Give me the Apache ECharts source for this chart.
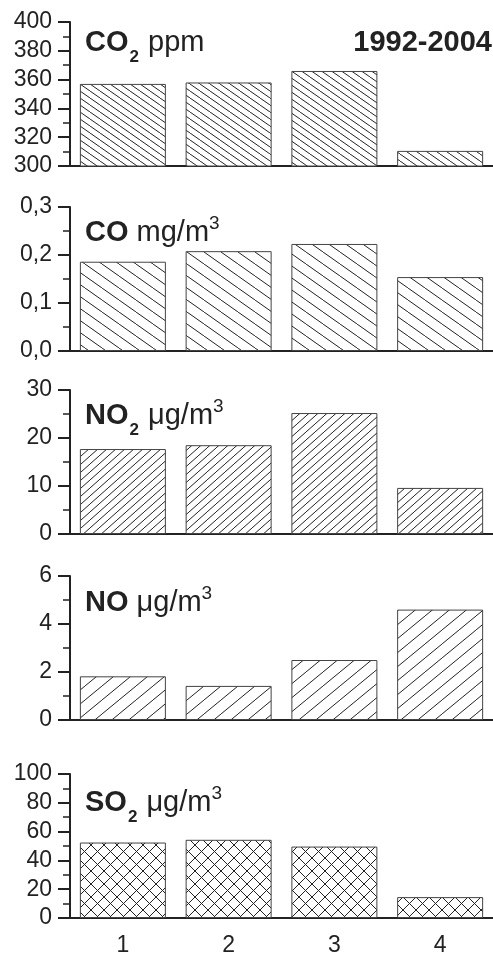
<!DOCTYPE html>
<html>
<head>
<meta charset="utf-8">
<title>CO2, CO, NO2, NO, SO2 1992-2004</title>
<script src="https://cdn.jsdelivr.net/npm/echarts@6/dist/echarts.min.js"></script>
<style>
  html, body { margin: 0; padding: 0; background: #fff; }
  #chart { width: 493px; height: 960px; }
</style>
</head>
<body>
<div id="chart"></div>
<script>
// dane
var categories = ['1', '2', '3', '4']
var co2 = [357, 358, 366, 310.5]
var co  = [0.186, 0.208, 0.223, 0.154]
var no2 = [17.7, 18.5, 25.2, 9.6]
var no  = [1.82, 1.42, 2.5, 4.6]
var so2 = [52.4, 54.3, 49.6, 14.5]

var INK = '#222'
var FONT = '"Liberation Sans", Arial, sans-serif'

/**
 * Kafelek kreskowania dla wypełnienia słupków.
 * dir: 'back' = \, 'fwd' = /, 'cross' = oba
 */
function hatch(w, h, dir) {
  var c = document.createElement('canvas')
  c.width = w
  c.height = h
  var ctx = c.getContext('2d')
  ctx.fillStyle = '#fff'
  ctx.fillRect(0, 0, w, h)
  ctx.strokeStyle = INK
  ctx.lineWidth = 1
  ctx.beginPath()
  for (var k = -1; k <= 1; k++) {
    if (dir === 'back' || dir === 'cross') {
      ctx.moveTo(k * w, 0); ctx.lineTo(k * w + w, h)
    }
    if (dir === 'fwd' || dir === 'cross') {
      ctx.moveTo(k * w, h); ctx.lineTo(k * w + w, 0)
    }
  }
  ctx.stroke()
  return { image: c, repeat: 'repeat' }
}

var panels = [
  { top: 22,  data: co2, min: 300, max: 400, interval: 20,  pat: hatch(10, 7, 'back') },
  { top: 207, data: co,  min: 0,   max: 0.3, interval: 0.1, pat: hatch(17, 12, 'back'), dec: 1 },
  { top: 390, data: no2, min: 0,   max: 30,  interval: 10,  pat: hatch(9, 8, 'fwd') },
  { top: 576, data: no,  min: 0,   max: 6,   interval: 2,   pat: hatch(17, 14, 'fwd') },
  { top: 774, data: so2, min: 0,   max: 100, interval: 20,  pat: hatch(13, 13, 'cross') }
]

var grids = [], xAxes = [], yAxes = [], series = []

panels.forEach(function(p, i) {
  var last = i === panels.length - 1
  grids.push({ left: 70, right: -4, top: p.top, height: 144 })
  xAxes.push({
    type: 'category',
    gridIndex: i,
    data: categories,
    axisLine: { lineStyle: { color: INK, width: 2 } },
    axisTick: { alignWithLabel: true, length: 12, lineStyle: { color: INK, width: 2 } },
    axisLabel: { show: last, color: INK, fontSize: 23, fontFamily: FONT, margin: 16 },
    splitLine: { show: false }
  })
  yAxes.push({
    type: 'value',
    gridIndex: i,
    min: p.min,
    max: p.max,
    interval: p.interval,
    axisLine: { show: true, lineStyle: { color: INK, width: 2 } },
    axisTick: { show: true, length: 12, lineStyle: { color: INK, width: 2 } },
    minorTick: { show: true, splitNumber: 2, length: 7, lineStyle: { color: INK, width: 1.5 } },
    axisLabel: {
      color: INK, fontSize: 23, fontFamily: FONT, margin: 18,
      formatter: function(v) {
        return p.dec ? v.toFixed(p.dec).replace('.', ',') : String(Math.round(v))
      }
    },
    splitLine: { show: false }
  })
  series.push({
    type: 'bar',
    xAxisIndex: i,
    yAxisIndex: i,
    data: p.data,
    barWidth: 86,
    silent: true,
    itemStyle: { color: p.pat, borderColor: '#444', borderWidth: 1 }
  })
})

var rich = {
  b: { fontSize: 29, fontWeight: 'bold', lineHeight: 29, padding: [5, 0, 0, 0], verticalAlign: 'top', color: INK, fontFamily: FONT },
  s: { fontSize: 17, fontWeight: 'bold', lineHeight: 17, padding: [26, 1, 0, 1], verticalAlign: 'top', color: INK, fontFamily: FONT },
  u: { fontSize: 29, fontWeight: 'normal', lineHeight: 29, padding: [5, 0, 0, 0], verticalAlign: 'top', color: INK, fontFamily: FONT },
  p: { fontSize: 19, fontWeight: 'normal', lineHeight: 19, padding: [1, 0, 0, 0], verticalAlign: 'top', color: INK, fontFamily: FONT }
}

function label(text, top) {
  return { text: text, left: 85, top: top, padding: 0, textStyle: { fontWeight: 'normal', rich: rich } }
}

var titles = [
  label('{b|CO}{s|2}{u| ppm}', 23),
  label('{b|CO}{u| mg/m}{p|3}', 213),
  label('{b|NO}{s|2}{u| μg/m}{p|3}', 396),
  label('{b|NO}{u| μg/m}{p|3}', 583),
  label('{b|SO}{s|2}{u| μg/m}{p|3}', 783),
  {
    text: '1992-2004', right: 1, top: 28, padding: 0,
    textStyle: { fontSize: 29, fontWeight: 'bold', lineHeight: 29, color: INK, fontFamily: FONT }
  }
]

var chart = echarts.init(document.getElementById('chart'), null, { renderer: 'canvas' })
chart.setOption({
  animation: false,
  backgroundColor: '#fff',
  title: titles,
  grid: grids,
  xAxis: xAxes,
  yAxis: yAxes,
  series: series
})

window.addEventListener('resize', function() { chart.resize() })
</script>
</body>
</html>
